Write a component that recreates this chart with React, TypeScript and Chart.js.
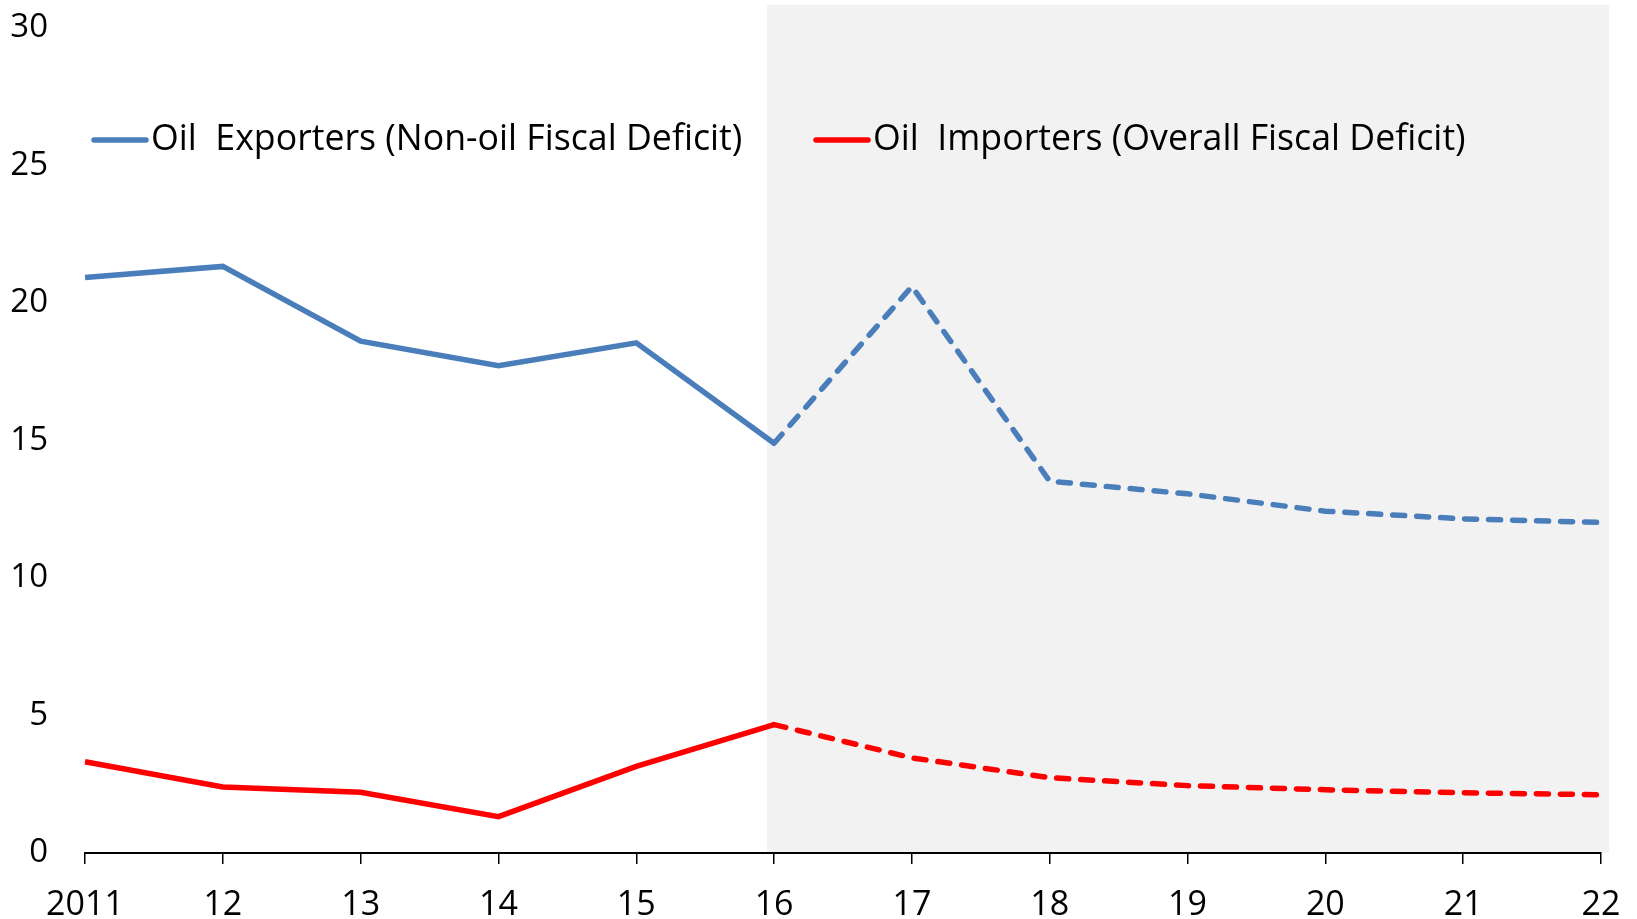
import { useEffect, useRef } from "react";
import { Chart, registerables } from "chart.js";

Chart.register(...registerables);

// ---- data ----
const years = ["2011", "12", "13", "14", "15", "16", "17", "18", "19", "20", "21", "22"];
const exporters = [20.93, 21.33, 18.61, 17.72, 18.55, 14.9, 20.6, 13.52, 13.06, 12.43, 12.15, 12.02];
const importers = [3.32, 2.4, 2.21, 1.32, 3.15, 4.67, 3.46, 2.74, 2.45, 2.3, 2.19, 2.12];
const exportersLabel = "Oil  Exporters (Non-oil Fiscal Deficit)";
const importersLabel = "Oil  Importers (Overall Fiscal Deficit)";
const yMin = 0;
const yMax = 30;
const yStep = 5;
const projectionStart = 5; // index of "16": projections dashed from here
const shadeFrom = 4.95;
const shadeTo = 11.06;
const shadeTop = 30.85;

const FONT = "'Open Sans', 'Noto Sans', sans-serif";
const BLUE = "#4a7ebb";
const RED = "#ff0000";
const LINE_W = 5.5;

const shadePlugin = {
  id: "shade",
  beforeDraw(chart: any) {
    const { ctx, scales, chartArea } = chart;
    const x0 = scales.x.getPixelForValue(shadeFrom);
    const x1 = scales.x.getPixelForValue(shadeTo);
    const y0 = scales.y.getPixelForValue(shadeTop);
    ctx.save();
    ctx.fillStyle = "#f2f2f2";
    ctx.fillRect(x0, y0, x1 - x0, chartArea.bottom - y0);
    ctx.restore();
  },
};

const legendPlugin = {
  id: "innerLegend",
  afterDraw(chart: any) {
    const { ctx, chartArea } = chart;
    const starts = [chartArea.left + 7, chartArea.left + 729];
    const y = chartArea.top + 112;
    ctx.save();
    chart.data.datasets.forEach((ds: any, i: number) => {
      const x = starts[i];
      ctx.strokeStyle = ds.borderColor;
      ctx.lineWidth = LINE_W;
      ctx.lineCap = "round";
      ctx.beginPath();
      ctx.moveTo(x + 2, y);
      ctx.lineTo(x + 54, y);
      ctx.stroke();
      ctx.fillStyle = "#000";
      ctx.font = `35.7px ${FONT}`;
      ctx.textBaseline = "middle";
      ctx.textAlign = "left";
      ctx.fillText(ds.label, x + 59, y);
    });
    ctx.restore();
  },
};

export default function App() {
  const ref = useRef<HTMLCanvasElement | null>(null);

  useEffect(() => {
    document.body.style.margin = "0";
    if (!ref.current) return;
    const dashed = (c: any) => (c.p0DataIndex >= projectionStart ? [12, 12] : undefined);
    const cap = (c: any) => (c.p0DataIndex >= projectionStart ? "round" : "butt");
    const chart = new Chart(ref.current, {
      type: "line",
      data: {
        labels: years,
        datasets: [
          {
            label: exportersLabel,
            data: exporters,
            borderColor: BLUE,
            borderWidth: LINE_W,
            pointRadius: 0,
            tension: 0,
            segment: { borderDash: dashed, borderCapStyle: cap } as any,
          },
          {
            label: importersLabel,
            data: importers,
            borderColor: RED,
            borderWidth: LINE_W,
            pointRadius: 0,
            tension: 0,
            segment: { borderDash: dashed, borderCapStyle: cap } as any,
          },
        ],
      },
      options: {
        responsive: false,
        maintainAspectRatio: false,
        animation: false,
        layout: { padding: { left: 0, right: 36, top: 28, bottom: 0 } },
        plugins: {
          legend: { display: false },
          tooltip: { enabled: false },
        },
        scales: {
          x: {
            offset: false,
            grid: {
              display: true,
              drawOnChartArea: false,
              drawTicks: true,
              tickLength: 11,
              color: "#000",
              lineWidth: 1.5,
            },
            border: { display: true, color: "#000", width: 2 },
            ticks: {
              color: "#000",
              font: { family: FONT, size: 34 },
              padding: 21,
              maxRotation: 0,
              autoSkip: false,
            },
            afterFit(scale: any) {
              scale.height = 66;
              scale.paddingLeft = 0;
              scale.paddingRight = 0;
            },
          },
          y: {
            min: yMin,
            max: yMax,
            grid: { display: false, drawTicks: false },
            border: { display: false },
            ticks: {
              stepSize: yStep,
              color: "#000",
              font: { family: FONT, size: 33 },
              padding: 37,
            },
            afterFit(scale: any) {
              scale.width = 85;
              scale.paddingTop = 0;
              scale.paddingBottom = 0;
            },
          },
        },
      },
      plugins: [shadePlugin, legendPlugin],
    });
    return () => chart.destroy();
  }, []);

  return (
    <div style={{ position: "absolute", left: 0, top: 0, width: 1637, height: 919 }}>
      <canvas ref={ref} width={1637} height={919} />
    </div>
  );
}
